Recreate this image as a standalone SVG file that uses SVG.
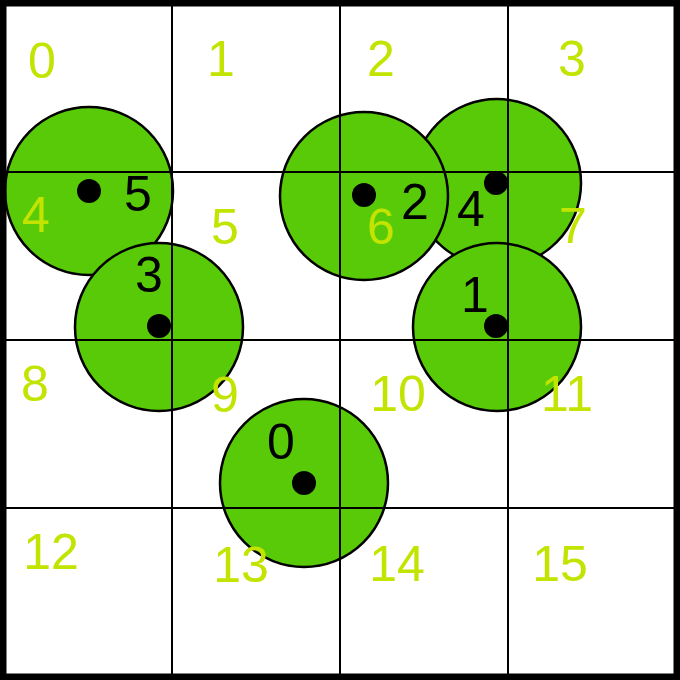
<svg xmlns="http://www.w3.org/2000/svg" width="680" height="680" viewBox="0 0 680 680">
<style>
.disc{fill:#59ca08;stroke:#000;stroke-width:2.5}
.dot{fill:#000}
.lbl{font-family:"Liberation Sans",Arial,sans-serif;font-size:50px;fill:#000;text-anchor:middle}
.cell{font-family:"Liberation Sans",Arial,sans-serif;font-size:50px;fill:#c2e400;text-anchor:middle}
.grid line{stroke:#000;stroke-width:2}
</style>
<rect width="680" height="680" fill="#fff"/>
<g id="node4"><circle class="disc" cx="497" cy="183" r="84"/><circle class="dot" cx="496" cy="183" r="12"/><text class="lbl" x="471" y="226">4</text></g>
<g id="node2"><circle class="disc" cx="364" cy="196" r="84"/><circle class="dot" cx="364" cy="195" r="12"/><text class="lbl" x="415" y="219">2</text></g>
<g id="node1"><circle class="disc" cx="497" cy="327" r="84"/><circle class="dot" cx="496" cy="326" r="12"/><text class="lbl" x="475" y="312">1</text></g>
<g id="node5"><circle class="disc" cx="89" cy="191" r="84"/><circle class="dot" cx="89" cy="191" r="12"/><text class="lbl" x="138" y="211">5</text></g>
<g id="node3"><circle class="disc" cx="159" cy="327" r="84"/><circle class="dot" cx="159" cy="326" r="12"/><text class="lbl" x="149" y="292">3</text></g>
<g id="node0"><circle class="disc" cx="304" cy="483" r="84"/><circle class="dot" cx="304" cy="483" r="12"/><text class="lbl" x="281" y="459">0</text></g>
<g id="grid" class="grid">
<line x1="172" y1="0" x2="172" y2="680"/>
<line x1="340" y1="0" x2="340" y2="680"/>
<line x1="508" y1="0" x2="508" y2="680"/>
<line x1="0" y1="172" x2="680" y2="172"/>
<line x1="0" y1="340" x2="680" y2="340"/>
<line x1="0" y1="508" x2="680" y2="508"/>
<rect x="3" y="3" width="674" height="674" fill="none" stroke="#000" stroke-width="7"/>
</g>
<g id="cells">
<text class="cell" x="42" y="78">0</text>
<text class="cell" x="221" y="76">1</text>
<text class="cell" x="381" y="76">2</text>
<text class="cell" x="572" y="76">3</text>
<text class="cell" x="36" y="232">4</text>
<text class="cell" x="225" y="244">5</text>
<text class="cell" x="381" y="244">6</text>
<text class="cell" x="573" y="243">7</text>
<text class="cell" x="35" y="401">8</text>
<text class="cell" x="225" y="412">9</text>
<text class="cell" x="398" y="411">10</text>
<text class="cell" x="567" y="411">11</text>
<text class="cell" x="51" y="569">12</text>
<text class="cell" x="241" y="582">13</text>
<text class="cell" x="397" y="581">14</text>
<text class="cell" x="560" y="581">15</text>
</g>
</svg>
